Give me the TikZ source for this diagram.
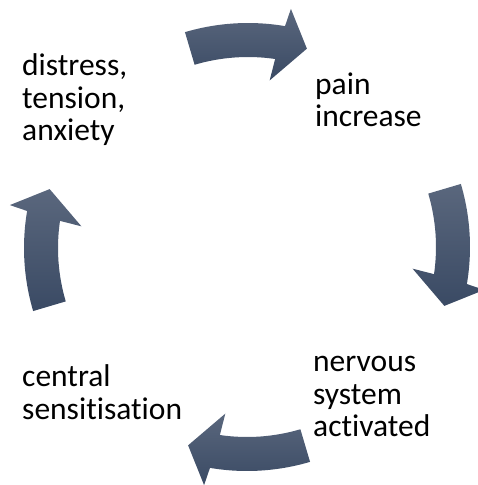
\documentclass[tikz,border=0pt]{standalone}
\usepackage{fontspec}
\setmainfont{Carlito}[Ligatures={NoCommon}]
\definecolor{arrtop}{RGB}{90,103,125}
\definecolor{arrbot}{RGB}{58,74,100}
\tikzset{
  lbl/.style={anchor=base west, align=left, inner sep=0pt, text=black,
    font=\fontsize{31.5pt}{32.5pt}\selectfont},
  cyclearrow/.style={top color=arrtop, bottom color=arrbot, draw=none}
}
% #1 = base angle (arrow runs clockwise), #2 = shift x, #3 = shift y
\newcommand{\cycarrow}[3]{%
  \shade[cyclearrow, shift={(247pt+#2pt,-251pt+#3pt)}]
    ({#1+16.5}:222pt) arc[start angle={#1+16.5}, end angle={#1-9.6}, radius=222pt]
    -- ({#1-10.3}:240pt)
    -- ({#1-16.7}:205pt)
    -- ({#1-7.5}:166pt)
    -- ({#1-8.3}:188pt)
    arc[start angle={#1-8.3}, end angle={#1+16.5}, radius=188pt]
    -- cycle;}
\begin{document}
\begin{tikzpicture}[x=1pt,y=1pt]
\useasboundingbox (0,0) rectangle (478,-485);
\node[lbl] (distress) at (22,-140.7) {distress,\\tension,\\anxiety};
\node[lbl] (pain) at (315,-126.5) {pain\\increase};
\node[lbl] (nervous) at (313,-436.5) {nervous\\system\\activated};
\node[lbl] (central) at (22,-419) {central\\sensitisation};
\cycarrow{90}{1}{6}
\cycarrow{0}{1}{4}
\cycarrow{-90}{0}{2}
\cycarrow{180}{-1}{3}
\end{tikzpicture}
\end{document}
